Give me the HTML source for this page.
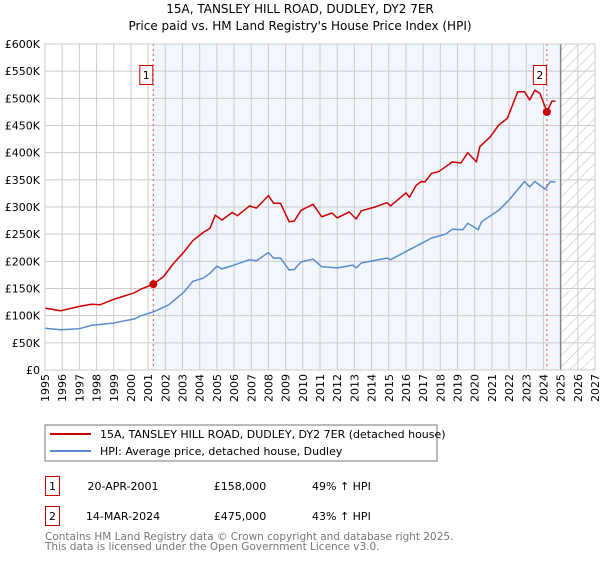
<!DOCTYPE html>
<html><head><meta charset="utf-8"><style>
body{margin:0;background:#fff;font-family:"DejaVu Sans","Liberation Sans",sans-serif;}
svg text{font-family:"DejaVu Sans","Liberation Sans",sans-serif;}
</style></head><body>
<svg id="c" width="600" height="560" xmlns="http://www.w3.org/2000/svg">
<defs><pattern id="hatch" width="8" height="8" patternUnits="userSpaceOnUse" patternTransform="rotate(45)"><line x1="0" y1="0" x2="0" y2="8" stroke="#bbb" stroke-width="1"/></pattern></defs>
<text x="300" y="13" font-size="12" text-anchor="middle">15A, TANSLEY HILL ROAD, DUDLEY, DY2 7ER</text>
<text x="300" y="30" font-size="12" text-anchor="middle">Price paid vs. HM Land Registry's House Price Index (HPI)</text>
<g id="plot"></g>
<rect x="45" y="425" width="392" height="36" fill="#fff" stroke="#777"/>
<line x1="50" y1="434" x2="91" y2="434" stroke="#cc0000" stroke-width="2"/>
<text x="100" y="438" font-size="11">15A, TANSLEY HILL ROAD, DUDLEY, DY2 7ER (detached house)</text>
<line x1="50" y1="451" x2="91" y2="451" stroke="#5b8ccf" stroke-width="2"/>
<text x="100" y="455" font-size="11">HPI: Average price, detached house, Dudley</text>
<g font-size="11">
<rect x="45.5" y="476.5" width="14" height="19" fill="#fff" stroke="#cc0000"/><text x="52.5" y="490" text-anchor="middle">1</text>
<text x="123" y="490" text-anchor="middle">20-APR-2001</text><text x="240" y="490" text-anchor="middle">£158,000</text><text x="312" y="490">49% ↑ HPI</text></g>
<g font-size="11">
<rect x="45.5" y="506.5" width="14" height="19" fill="#fff" stroke="#cc0000"/><text x="52.5" y="520" text-anchor="middle">2</text>
<text x="123" y="520" text-anchor="middle">14-MAR-2024</text><text x="240" y="520" text-anchor="middle">£475,000</text><text x="312" y="520">43% ↑ HPI</text></g>
<text x="45" y="540" font-size="10.5" fill="#777">Contains HM Land Registry data © Crown copyright and database right 2025.</text>
<text x="45" y="550" font-size="10.5" fill="#777">This data is licensed under the Open Government Licence v3.0.</text>
</svg>
<script>
const yTicks=[0,50,100,150,200,250,300,350,400,450,500,550,600];
const yearTicks=[1995,1996,1997,1998,1999,2000,2001,2002,2003,2004,2005,2006,2007,2008,2009,2010,2011,2012,2013,2014,2015,2016,2017,2018,2019,2020,2021,2022,2023,2024,2025,2026,2027];
const priceT=[1995,1995.9,1997,1997.7,1998.2,1998.9,1999.5,2000.2,2000.6,2001.3,2001.9,2002.5,2003.1,2003.6,2004.2,2004.6,2004.9,2005.3,2005.9,2006.2,2006.9,2007.3,2008,2008.3,2008.7,2009.2,2009.5,2009.9,2010.6,2011.1,2011.7,2012,2012.7,2013.1,2013.4,2014.2,2014.9,2015.1,2016,2016.2,2016.6,2016.9,2017.1,2017.5,2017.9,2018.3,2018.7,2019.2,2019.6,2020.1,2020.3,2020.9,2021.4,2021.9,2022.5,2022.9,2023.2,2023.5,2023.8,2024.2,2024.5,2024.7];
const priceV=[114,109,117,121,120,129,135,142,149,158,172,197,218,238,253,261,285,276,290,284,302,298,321,307,307,273,274,294,305,282,289,280,291,278,293,300,308,302,326,318,340,347,346,362,365,374,383,381,400,383,411,429,451,463,512,512,497,515,509,475,495,495];
const hpiT=[1995,1995.9,1997,1997.7,1998.9,2000.2,2000.6,2001.3,2002.2,2003.1,2003.6,2004.2,2004.6,2005,2005.3,2006,2006.9,2007.3,2008,2008.3,2008.7,2009.2,2009.5,2009.9,2010.6,2011.1,2012,2012.9,2013.1,2013.4,2014.9,2015.1,2016,2016.9,2017.5,2018.3,2018.7,2019.3,2019.6,2020.2,2020.4,2021.4,2022,2022.9,2023.2,2023.5,2024.1,2024.4,2024.7];
const hpiV=[77,74,76,82,86,94,100,107,120,144,163,169,178,191,186,193,203,201,216,206,206,184,185,199,204,190,188,193,188,197,206,203,218,233,243,250,259,258,270,258,273,294,313,347,337,347,333,347,346];
const sales=[[2001.3,158],[2024.2,475]];
const X=t=>45+(t-1995)*550/32, Y=v=>370-v*326/600;
const g=document.getElementById('plot'), NS='http://www.w3.org/2000/svg';
function mk(tag,a,p){const e=document.createElementNS(NS,tag);for(const k in a)e.setAttribute(k,a[k]);(p||g).appendChild(e);return e;}
let e=mk('rect',{x:45,y:44,width:550,height:326,fill:'#fff'});


e=mk('rect',{x:X(sales[0][0]),y:44,width:X(2025)-X(sales[0][0]),height:326,fill:'#f2f6fd'});


e=mk('rect',{x:X(2025),y:44,width:595-X(2025),height:326,fill:'url(#hatch)'});


yTicks.forEach(v=>{
 e=mk('line',{x1:45,x2:595,y1:Y(v*1),y2:Y(v*1),stroke:'#ccc'});
 
 
 e=mk('text',{x:40,y:Y(v)+4,'font-size':11,'text-anchor':'end'});
 e.textContent=v===0?'£0':'£'+v+'K';
 
 
});
yearTicks.forEach(t=>{
 e=mk('line',{x1:X(t),x2:X(t),y1:44,y2:370,stroke:'#ccc'});
 
 
 e=mk('text',{x:0,y:0,'font-size':11,'text-anchor':'end',transform:`translate(${X(t)+4},374) rotate(-90)`});
 e.textContent=t;
 
 
});
e=mk('line',{x1:X(2025),x2:X(2025),y1:44,y2:370,stroke:'#888','stroke-width':1.5});


function line(T,V,c,n){const d=T.map((t,i)=>(i?'L':'M')+X(t).toFixed(1)+','+Y(V[i]).toFixed(1)).join('');
 const p=mk('path',{d:d,fill:'none',stroke:c,'stroke-width':1.5,'stroke-linejoin':'round'});
 
 }
line(hpiT,hpiV,'#5b8ccf','hpi-line');
line(priceT,priceV,'#cc0000','price-line');
sales.forEach((s,i)=>{
 e=mk('line',{x1:X(s[0]),x2:X(s[0]),y1:44,y2:370,stroke:'#e05050','stroke-dasharray':'2,3'});
 
 
 e=mk('circle',{cx:X(s[0]),cy:Y(s[1]),r:4,fill:'#cc0000'});
 
 
 e=mk('rect',{x:X(s[0])-13.5,y:65.5,width:13,height:19,fill:'#fff',stroke:'#cc0000'});
 
 
 e=mk('text',{x:X(s[0])-7,y:79,'font-size':11,'text-anchor':'middle'});
 e.textContent=String(i+1);
 
 
});
e=mk('rect',{x:45,y:44,width:550,height:326,fill:'none',stroke:'#ccc'});


</script>
</body></html>
